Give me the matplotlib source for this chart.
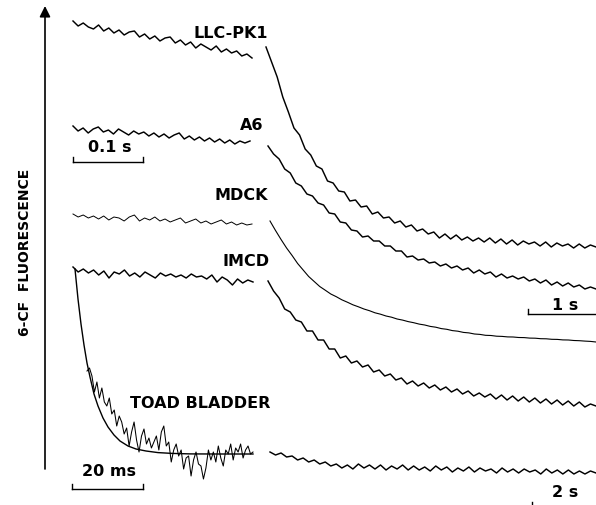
import numpy as np
import matplotlib
matplotlib.use("Agg")
import matplotlib.pyplot as plt

# ---------------- data (fluorescence, arbitrary units above each trace's final level) ----------------
cell_lines = ["LLC-PK1", "A6", "MDCK", "IMCD", "TOAD BLADDER"]

llc_fast = [226, 221, 224, 220, 218, 222, 216, 219, 214, 217, 212, 215, 216, 210, 213, 208, 211, 206,
            209, 210, 204, 207, 202, 205, 199, 203, 200, 197, 201, 195, 198, 194, 196, 191, 193, 189]
llc_slow = [200, 185, 170, 150, 135, 119, 112, 98, 92, 81, 78, 66, 64, 56, 55, 46, 47, 40, 41, 33,
            35, 29, 30, 24, 26, 20, 22, 16, 18, 13, 15, 9, 13, 8, 12, 7, 10, 6, 9, 5,
            9, 4, 8, 3, 7, 2, 6, 3, 5, 1, 5, 0, 4, 1, 3, -1, 3, -1, 2, 0]

a6_fast = [163, 158, 161, 156, 160, 162, 157, 159, 155, 160, 157, 154, 158, 155, 157, 153, 156, 152,
           155, 151, 154, 156, 150, 153, 149, 152, 148, 151, 147, 150, 146, 149, 145, 148, 146, 148]
a6_slow = [143, 135, 130, 120, 116, 106, 103, 95, 93, 86, 84, 76, 75, 67, 66, 59, 58, 52, 53, 48,
           48, 43, 43, 38, 38, 32, 33, 29, 30, 26, 27, 23, 25, 21, 23, 19, 21, 16, 19, 15,
           17, 12, 15, 11, 13, 10, 12, 8, 10, 6, 9, 4, 7, 3, 6, 2, 4, 0, 2, 0]

mdck_fast = [128, 125, 127, 124, 126, 123, 126, 122, 125, 124, 121, 125, 127, 121, 124, 122, 125, 121,
             123, 120, 122, 124, 119, 121, 123, 119, 121, 118, 120, 122, 118, 120, 117, 119, 117, 118]
mdck_slow = [121, 111.5, 102.5, 94, 86.5, 78.5, 72, 65.5, 60.5, 55.5, 51.8, 48, 45.3, 42.2, 39.8, 37.2,
             35.2, 33, 31.3, 29.2, 27.8, 26, 24.8, 23, 21.9, 20.4, 19.3, 17.9, 17, 15.6, 14.8, 13.4,
             12.7, 11.4, 10.8, 9.6, 9.1, 8, 7.6, 6.7, 6.5, 5.8, 5.6, 5.1, 5, 4.5, 4.4, 3.9, 3.8, 3.3,
             3.2, 2.7, 2.6, 2.1, 2.0, 1.5, 1.3, 0.9, 0.6, 0]

imcd_fast = [139, 134, 137, 133, 136, 131, 135, 128, 134, 132, 136, 130, 133, 129, 134, 131, 128, 133,
             130, 132, 129, 131, 128, 132, 129, 130, 127, 131, 124, 129, 126, 121, 127, 123, 126, 124]
imcd_slow = [125, 115, 108, 97, 94, 86, 84, 75, 75, 66, 66, 57, 57, 48, 50, 43, 45, 39, 41, 34,
             36, 30, 32, 26, 28, 22, 25, 20, 23, 18, 21, 16, 19, 14, 17, 12, 15, 10, 13, 9,
             12, 7, 11, 6, 10, 5, 9, 4, 8, 3, 7, 2, 6, 1, 5, 0, 4, -1, 2, 0]

toad_fit = [203, 173, 148, 127, 109, 95, 78, 66, 54, 45, 37, 31, 26, 23, 21, 19.4, 18.6, 18.1, 18, 18]
toad_fast = [101, 104, 96, 80, 90, 74, 84, 70, 66, 74, 58, 62, 46, 56, 50, 38, 44, 26, 40, 50,
             32, 20, 36, 43, 28, 34, 24, 30, 36, 22, 40, 46, 26, 30, 10, 22, 28, 16, 22, 3,
             14, 16, -4, 12, 20, 8, 6, -7, 4, 22, 12, 20, 10, 26, 14, 6, 22, 18, 28, 12,
             24, 20, 28, 14, 22, 26, 18, 20]
toad_slow = [20, 17, 19, 15, 16, 12, 14, 10, 12, 8, 10, 6, 8, 4, 7, 3, 8, 4, 7, 3,
             7, 2, 6, 3, 7, 2, 6, 2, 5, 1, 6, 2, 5, 0, 4, 1, 5, 0, 4, 1,
             3, -1, 4, 0, 3, -1, 3, 0, 2, -2, 3, -1, 2, -2, 2, -2, 1, -2, 1, -1]

scale_labels = ["0.1 s", "1 s", "20 ms", "2 s"]
axis_label = "6-CF  FLUORESCENCE"

# ---------------- layout ----------------
fig = plt.figure(figsize=(5.96, 5.06), dpi=100)
ax = fig.add_axes([0, 0, 1, 1])
ax.set_xlim(0, 596)
ax.set_ylim(0, 506)
ax.axis("off")

FONT = "DejaVu Sans"
LW = 1.05

def seg(vals, x0, x1, base, lw=LW):
    xs = np.linspace(x0, x1, len(vals))
    ax.plot(xs, base + np.asarray(vals, float), color="black", lw=lw)

# trace vertical bases
bases = {"LLC-PK1": 258, "A6": 216, "MDCK": 163, "IMCD": 99, "TOAD BLADDER": 33}

seg(llc_fast, 73, 252, bases["LLC-PK1"])
seg(llc_slow, 266, 596, bases["LLC-PK1"])
seg(a6_fast, 73, 250, bases["A6"])
seg(a6_slow, 268, 596, bases["A6"])
seg(mdck_fast, 73, 252, bases["MDCK"], lw=0.7)
seg(mdck_slow, 270, 596, bases["MDCK"], lw=0.8)
seg(imcd_fast, 73, 253, bases["IMCD"])
seg(imcd_slow, 268, 596, bases["IMCD"])

fit_x = [75, 78, 81, 84, 87, 90, 94, 98, 103, 108, 114, 120, 128, 136, 146, 158, 172, 190, 215, 253]
ax.plot(fit_x, bases["TOAD BLADDER"] + np.asarray(toad_fit), color="black", lw=1.0)
seg(toad_fast, 87, 253, bases["TOAD BLADDER"], lw=0.75)
seg(toad_slow, 270, 596, bases["TOAD BLADDER"])

# labels
label_pos = {"LLC-PK1": (268, 473), "A6": (263, 381), "MDCK": (268, 311),
             "IMCD": (270, 244), "TOAD BLADDER": (270, 103)}
for name in cell_lines:
    x, y = label_pos[name]
    ax.text(x, y, name, ha="right", va="center", fontsize=11.5, fontweight="bold", family=FONT)

# scale bars
def bar(x0, x1, y, ticks=(True, True)):
    ax.plot([x0, x1], [y, y], color="black", lw=1.0)
    if ticks[0]:
        ax.plot([x0, x0], [y, y + 5], color="black", lw=1.0)
    if ticks[1]:
        ax.plot([x1, x1], [y, y + 5], color="black", lw=1.0)

bar(73, 143, 343)
ax.text(110, 358, scale_labels[0], ha="center", va="center", fontsize=11.5, fontweight="bold", family=FONT)
bar(528, 596, 191, ticks=(True, False))
ax.text(565, 201, scale_labels[1], ha="center", va="center", fontsize=11.5, fontweight="bold", family=FONT)
bar(72, 143, 16)
ax.text(109, 34, scale_labels[2], ha="center", va="center", fontsize=11.5, fontweight="bold", family=FONT)
ax.text(565, 13, scale_labels[3], ha="center", va="center", fontsize=11.5, fontweight="bold", family=FONT)
ax.plot([532, 532], [0, 3], color="black", lw=1.0)

# fluorescence axis arrow
ax.annotate("", xy=(45, 499), xytext=(45, 36),
            arrowprops=dict(arrowstyle="-|>", lw=1.2, color="black", mutation_scale=16, shrinkA=0, shrinkB=0))
ax.text(25, 254, axis_label, rotation=90, ha="center", va="center", fontsize=10,
        fontweight="bold", family=FONT)

fig.savefig("out.png", dpi=100, facecolor="white")
